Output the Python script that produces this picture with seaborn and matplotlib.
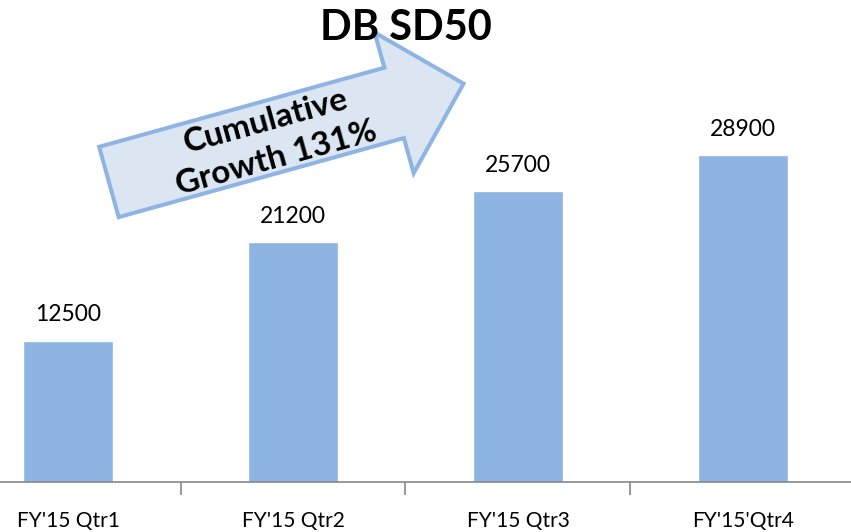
import numpy as np
import pandas as pd
import matplotlib
matplotlib.use("Agg")
import matplotlib.pyplot as plt
from matplotlib.patches import Polygon
import seaborn as sns

# Quarterly unit counts
quarters = ["FY'15 Qtr1", "FY'15 Qtr2", "FY'15 Qtr3", "FY'15'Qtr4"]
units = [12500, 21200, 25700, 28900]
title = "DB SD50"
callout = "Cumulative\nGrowth 131%"

BAR = "#8eb4e3"
ARROW_FILL = "#dce6f2"
AXIS = "#868686"

sns.set_theme(style="white")
plt.rcParams["font.family"] = ["Lato", "DejaVu Sans"]

W, H = 851, 532
fig = plt.figure(figsize=(W / 100, H / 100), dpi=100)
base_px = 482
ax = fig.add_axes([0, 1 - base_px / H, 1, base_px / H])

df = pd.DataFrame({"quarter": quarters, "units": units})
sns.barplot(data=df, x="quarter", y="units", color=BAR, saturation=1,
            width=0.4, ax=ax)

cat_px = 225.0
left = -68 / cat_px
ax.set_xlim(left, left + W / cat_px)
ax.set_ylim(0, 42600)

for c in ax.containers:
    ax.bar_label(c, labels=[f"{v:d}" for v in units], padding=11,
                 fontsize=16.5, color="black")

for s in ["top", "right", "left"]:
    ax.spines[s].set_visible(False)
ax.spines["bottom"].set_color(AXIS)
ax.spines["bottom"].set_linewidth(1.2)
ax.set_yticks([])
ax.set_xlabel("")
ax.set_ylabel("")
ax.set_xticks(np.arange(len(quarters)))
ax.set_xticklabels(quarters, fontsize=15, color="black")
ax.set_xticks(np.arange(len(quarters) - 1) + 0.5, minor=True)
ax.tick_params(axis="x", which="major", length=0, pad=21)
ax.tick_params(axis="x", which="minor", length=9.5, width=1.2,
               color=AXIS, direction="out", bottom=True)


def px(x, y):
    return (x / W, 1 - y / H)


# Block arrow built in a local frame, then rotated into place (pixel space)
tail = np.array([107.0, 182.5])
ang = np.deg2rad(15.5)
d = np.array([np.cos(ang), -np.sin(ang)])
n = np.array([np.sin(ang), np.cos(ang)])  # points "down" on screen
length = 372.0
head_len = 74.0
shaft_hw = 36.5
head_hw = 73.0
local = [
    (2, -shaft_hw), (length - head_len, -shaft_hw), (length - head_len, -head_hw),
    (length - 2, 0), (length - head_len, head_hw), (length - head_len, shaft_hw),
    (2, shaft_hw),
]
verts = [px(*(tail + a * d + b * n)) for a, b in local]
arrow = Polygon(verts, closed=True, facecolor=ARROW_FILL, edgecolor=BAR,
                linewidth=2.9, transform=fig.transFigure, clip_on=False,
                zorder=5, joinstyle="miter")
ax.add_patch(arrow)

cx, cy = px(271, 140)
ax.text(cx, cy, callout, transform=fig.transFigure, rotation=15.5,
        rotation_mode="anchor", ha="center", va="center",
        multialignment="center", fontsize=24, fontweight="bold",
        linespacing=1.4, color="black", zorder=6)

tx, ty = px(405.5, 40)
ax.text(tx, ty, title, transform=fig.transFigure, ha="center", va="baseline",
        fontsize=30, fontweight="bold", color="black", zorder=10)

fig.savefig("out.png", dpi=100)
